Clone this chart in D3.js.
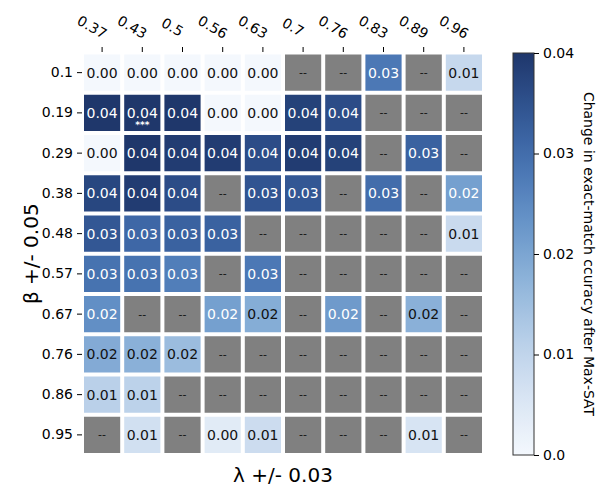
<!DOCTYPE html>
<html>
<head>
<meta charset="utf-8">
<script src="https://cdn.jsdelivr.net/npm/d3@7"></script>
<style>
  body { margin: 0; background: #fff; }
  svg text { font-family: "DejaVu Sans", sans-serif; }
</style>
</head>
<body>
<svg id="chart" width="600" height="486"></svg>
<script>
// ---- data ----
const lambdaLabels = ["0.37","0.43","0.5","0.56","0.63","0.7","0.76","0.83","0.89","0.96"];
const betaLabels = ["0.1","0.19","0.29","0.38","0.48","0.57","0.67","0.76","0.86","0.95"];
// values[row][col], null = no data ("--")
const row01  = [0.0, 0.0, 0.0, 0.0, 0.0, null, null, 0.028, null, 0.009];
const row019 = [0.040, 0.040, 0.040, 0.0, 0.0, 0.038, 0.036, null, null, null];
const row029 = [0.0, 0.040, 0.039, 0.039, 0.036, 0.039, 0.038, null, 0.032, null];
const row038 = [0.037, 0.039, 0.036, null, 0.0345, 0.034, null, 0.030, null, 0.021];
const row048 = [0.034, 0.031, 0.032, 0.032, null, null, null, null, null, 0.0086];
const row057 = [0.029, 0.029, 0.027, null, 0.028, null, null, null, null, null];
const row067 = [0.024, null, null, 0.021, 0.0186, null, 0.022, null, 0.018, null];
const row076 = [0.019, 0.018, 0.0156, null, null, null, null, null, null, null];
const row086 = [0.011, 0.0106, null, null, null, null, null, null, null, null];
const row095 = [null, 0.007, null, 0.004, 0.008, null, null, null, 0.006, null];
const values = [row01, row019, row029, row038, row048, row057, row067, row076, row086, row095];
// significance markers [row, col, text]
const markers = [[1, 1, "***"]];
const colorTicks = [0, 0.01, 0.02, 0.03, 0.04];
const vmin = 0, vmax = 0.04;

// ---- layout ----
const svg = d3.select("#chart");
const gx0 = 82, gx1 = 484, gy0 = 52.5, gy1 = 455;

const x = d3.scaleBand().domain(lambdaLabels).range([gx0, gx1]).padding(0);
const y = d3.scaleBand().domain(betaLabels).range([gy0, gy1]).padding(0);

const cmapStops = ["#f4f8fd", "#c5d7ed", "#79a7d3", "#3e6cb1", "#1f376b"];
const cinterp = d3.interpolateRgbBasis(cmapStops);
const color = d3.scaleSequential(v => cinterp(v)).domain([vmin, vmax]).clamp(true);

const cells = [];
values.forEach((row, ri) => row.forEach((v, ci) => cells.push({r: betaLabels[ri], c: lambdaLabels[ci], v})));

const inset = 2;
const g = svg.append("g");
g.selectAll("rect.cell").data(cells).join("rect")
  .attr("class", "cell")
  .attr("x", d => x(d.c) + inset)
  .attr("y", d => y(d.r) + inset)
  .attr("width", x.bandwidth() - 2 * inset)
  .attr("height", y.bandwidth() - 2 * inset)
  .attr("fill", d => d.v === null ? "#808080" : color(d.v));

const fmt = d3.format(".2f");
g.selectAll("text.val").data(cells).join("text")
  .attr("class", "val")
  .attr("x", d => x(d.c) + x.bandwidth() / 2)
  .attr("y", d => y(d.r) + y.bandwidth() / 2)
  .attr("text-anchor", "middle")
  .attr("dominant-baseline", "central")
  .attr("font-size", d => d.v === null ? 11 : 14)
  .attr("fill", d => d.v === null ? "#111" : (d.v >= 0.0195 ? "#fff" : "#111"))
  .text(d => d.v === null ? "--" : fmt(d.v));

g.selectAll("text.mark").data(markers).join("text")
  .attr("class", "mark")
  .attr("x", d => x(lambdaLabels[d[1]]) + x.bandwidth() / 2)
  .attr("y", d => y(betaLabels[d[0]]) + y.bandwidth() / 2 + 15)
  .attr("text-anchor", "middle")
  .attr("font-size", 9)
  .attr("font-weight", "bold")
  .attr("fill", "#fff")
  .text(d => d[2]);

// top axis
const xAxis = svg.append("g").attr("transform", `translate(0,${gy0 - 0.5})`)
  .call(d3.axisTop(x).tickSize(5).tickSizeOuter(0));
xAxis.select(".domain").remove();
xAxis.selectAll(".tick line").attr("stroke", "#000").attr("stroke-width", 1);
xAxis.selectAll(".tick text")
  .attr("font-size", 14)
  .attr("fill", "#000")
  .attr("text-anchor", "middle")
  .attr("dominant-baseline", "central")
  .attr("x", 0).attr("y", 0)
  .attr("transform", "translate(-10,-25) rotate(30)");

// left axis
const yAxis = svg.append("g").attr("transform", `translate(${gx0},0)`)
  .call(d3.axisLeft(y).tickSize(5).tickPadding(4).tickSizeOuter(0));
yAxis.select(".domain").remove();
yAxis.selectAll(".tick line").attr("stroke", "#000");
yAxis.selectAll(".tick text").attr("font-size", 14).attr("fill", "#000");

// axis titles
svg.append("text")
  .attr("x", (gx0 + gx1) / 2).attr("y", 475)
  .attr("text-anchor", "middle").attr("dominant-baseline", "central")
  .attr("font-size", 20).attr("fill", "#000")
  .text("λ +/- 0.03");
svg.append("text")
  .attr("transform", `translate(31,${(gy0 + gy1) / 2}) rotate(-90)`)
  .attr("text-anchor", "middle").attr("dominant-baseline", "central")
  .attr("font-size", 20).attr("fill", "#000")
  .text("β +/- 0.05");

// colorbar
const cbx = 513, cbw = 21, cby0 = 53, cby1 = 455;
const cy = d3.scaleLinear().domain([vmin, vmax]).range([cby1, cby0]);
const defs = svg.append("defs");
const grad = defs.append("linearGradient").attr("id", "cbgrad")
  .attr("x1", 0).attr("y1", 1).attr("x2", 0).attr("y2", 0);
d3.range(0, 1.0001, 0.02).forEach(t => {
  grad.append("stop").attr("offset", t).attr("stop-color", color(vmin + t * (vmax - vmin)));
});
svg.append("rect")
  .attr("x", cbx).attr("y", cby0).attr("width", cbw).attr("height", cby1 - cby0)
  .attr("fill", "url(#cbgrad)")
  .attr("stroke", "#333").attr("stroke-width", 1);
const cAxis = svg.append("g").attr("transform", `translate(${cbx + cbw},0)`)
  .call(d3.axisRight(cy).tickValues(colorTicks).tickSize(5).tickPadding(4)
    .tickFormat(d => d === 0 ? "0.0" : d3.format(".2f")(d)));
cAxis.select(".domain").remove();
cAxis.selectAll(".tick line").attr("stroke", "#000");
cAxis.selectAll(".tick text").attr("font-size", 14).attr("fill", "#000");

svg.append("text")
  .attr("transform", `translate(589,${(cby0 + cby1) / 2}) rotate(90)`)
  .attr("text-anchor", "middle").attr("dominant-baseline", "central")
  .attr("font-size", 14).attr("fill", "#000")
  .text("Change in exact-match ccuracy after Max-SAT");
</script>
</body>
</html>
